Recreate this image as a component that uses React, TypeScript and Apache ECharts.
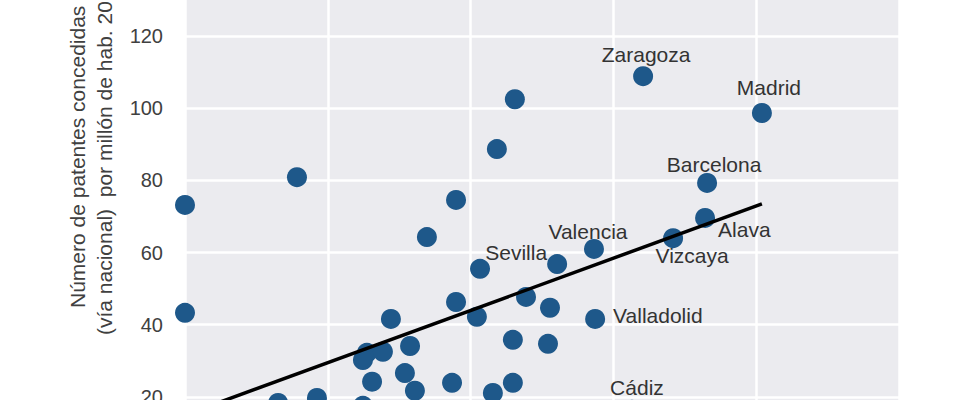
import React, { useEffect, useRef } from "react";
import * as echarts from "echarts";

// Data (x: arbitrary axis units 15–40, y: patents per million inhabitants)
const names = [
  "", "", "", "", "", "", "", "", "Zaragoza", "Madrid", "Barcelona", "Alava", "Vizcaya",
  "", "", "Sevilla", "Valencia", "", "", "", "", "", "Valladolid", "", "", "", "", "", "",
  "", "", "", "", "", "", "", "Cádiz",
];
const xValues = [
  15.0, 15.0, 18.92, 18.26, 19.62, 24.49, 26.55, 25.92, 31.04, 35.2, 33.28, 33.21, 32.09,
  23.47, 25.33, 28.03, 29.32, 26.94, 24.49, 27.78, 25.22, 22.21, 29.36, 26.48, 27.71, 22.88, 21.37, 21.93, 21.23,
  22.7, 21.55, 24.35, 26.48, 23.05, 25.78, 21.23, 30.65,
];
const yValues = [
  73.2, 43.3, 80.9, 18.3, 19.7, 74.6, 102.5, 88.7, 108.9, 98.7, 79.3, 69.6, 64.0,
  64.3, 55.5, 56.8, 61.0, 47.7, 46.3, 44.7, 42.2, 41.6, 41.6, 35.8, 34.7, 34.1, 32.2, 32.5, 30.2,
  26.6, 24.2, 23.9, 23.9, 21.7, 21.1, 17.5, 16.4,
];
// Trend line end points (data units)
const trendX = [15.0, 35.2];
const trendY = [15.0, 73.5];

const yTicks = { min: 0, max: 140, interval: 20 };
const xTicks = { min: 15, max: 40, interval: 5 };

const yTitle1 = "Número de patentes concedidas";
const yTitle2 = "(vía nacional)  por millón de hab. 2014";

const FONT = "'Liberation Sans', Arial, sans-serif";

const labelStyles: Record<string, any> = {
  Zaragoza: { position: "top", distance: 1, offset: [3, 0] },
  Madrid: { position: "top", distance: 3, offset: [7, -2] },
  Barcelona: { position: "top", distance: 0, offset: [7, 2] },
  Valencia: { position: "top", distance: 0, offset: [-6, 3] },
  Sevilla: { position: "left", distance: 0, offset: [0, -12] },
  Alava: { position: "right", distance: 3, offset: [0, 12] },
  Vizcaya: { position: "bottom", distance: -3, offset: [19, 0] },
  Valladolid: { position: "right", distance: 8, offset: [0, -3] },
  "Cádiz": { position: "top", distance: 2, offset: [5, 0] },
};

export default function App() {
  const ref = useRef<HTMLDivElement>(null);
  useEffect(() => {
    if (!ref.current) return;
    const chart = echarts.init(ref.current, undefined, { renderer: "svg" });
    const data = xValues.map((x, i) => {
      const n = names[i];
      const item: any = { value: [x, yValues[i]], name: n };
      if (n) {
        item.label = {
          show: true,
          formatter: n,
          color: "#333333",
          fontSize: 21,
          fontFamily: FONT,
          ...labelStyles[n],
        };
      }
      return item;
    });
    chart.setOption({
      animation: false,
      backgroundColor: "#ffffff",
      grid: {
        left: 185,
        width: 714,
        top: -36,
        height: 505,
        show: true,
        backgroundColor: "#ebebef",
        borderWidth: 0,
        containLabel: false,
        outerBoundsMode: "none",
      },
      xAxis: {
        type: "value",
        min: xTicks.min,
        max: xTicks.max,
        interval: xTicks.interval,
        axisLine: { show: false },
        axisTick: { show: false },
        axisLabel: { show: false },
        splitLine: { show: true, lineStyle: { color: "#ffffff", width: 2.5 } },
      },
      yAxis: {
        type: "value",
        min: yTicks.min,
        max: yTicks.max,
        interval: yTicks.interval,
        axisLine: { show: false },
        axisTick: { show: false },
        axisLabel: {
          color: "#404040",
          fontSize: 20,
          fontFamily: FONT,
          margin: 22,
        },
        splitLine: { show: true, lineStyle: { color: "#ffffff", width: 2.5 } },
      },
      graphic: [
        {
          type: "text",
          x: 77,
          y: 308,
          rotation: Math.PI / 2,
          style: {
            text: yTitle1,
            fill: "#404040",
            fontSize: 21,
            fontFamily: FONT,
            align: "left",
            verticalAlign: "middle",
          },
        },
        {
          type: "text",
          x: 104,
          y: 335,
          rotation: Math.PI / 2,
          style: {
            text: yTitle2,
            fill: "#404040",
            fontSize: 21,
            fontFamily: FONT,
            align: "left",
            verticalAlign: "middle",
          },
        },
      ],
      series: [
        {
          type: "scatter",
          symbolSize: 20,
          itemStyle: { color: "#1e588a", opacity: 1 },
          data,
          clip: false,
          z: 2,
        },
        {
          type: "line",
          data: trendX.map((x, i) => [x, trendY[i]]),
          symbol: "none",
          lineStyle: { color: "#000000", width: 3.5 },
          z: 3,
          silent: true,
        },
      ],
    });
    return () => chart.dispose();
  }, []);
  return (
    <div
      ref={ref}
      style={{ position: "fixed", left: 0, top: 0, width: 960, height: 400 }}
    />
  );
}
